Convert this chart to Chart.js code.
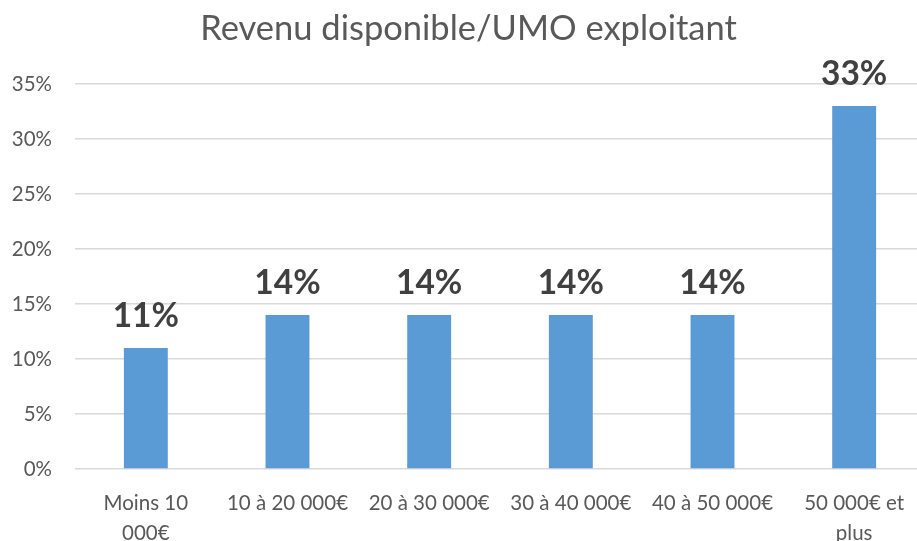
<!DOCTYPE html>
<html>
<head>
<meta charset="utf-8">
<script src="https://cdn.jsdelivr.net/npm/chart.js@4"></script>
<style>
  html, body { margin: 0; padding: 0; background: #fff; overflow: hidden; }
  #wrap { position: relative; width: 950px; height: 541px; }
</style>
</head>
<body>
<div id="wrap"><canvas id="revenuChart"></canvas></div>
<script>
// données
const categories = [['Moins 10', '000€'], '10 à 20 000€', '20 à 30 000€', '30 à 40 000€', '40 à 50 000€', ['50 000€ et', 'plus']];
const shares = [11, 14, 14, 14, 14, 33];
const yTicks = [0, 5, 10, 15, 20, 25, 30, 35];

const FONT = 'Lato, "Open Sans", sans-serif';

// étiquettes de valeur au-dessus des barres
const valueLabels = {
  id: 'valueLabels',
  afterDatasetsDraw(chart) {
    const ctx = chart.ctx;
    const meta = chart.getDatasetMeta(0);
    ctx.save();
    ctx.font = 'bold 33.5px ' + FONT;
    ctx.fillStyle = '#404040';
    ctx.textAlign = 'center';
    ctx.textBaseline = 'alphabetic';
    meta.data.forEach((bar, i) => {
      ctx.fillText(shares[i] + '%', bar.x, bar.y - 21.5);
    });
    ctx.restore();
  }
};

const ctx = document.getElementById('revenuChart').getContext('2d');
new Chart(ctx, {
  type: 'bar',
  data: {
    labels: categories,
    datasets: [{
      data: shares,
      backgroundColor: '#5B9BD5',
      barPercentage: 0.31,
      categoryPercentage: 1
    }]
  },
  options: {
    responsive: true,
    maintainAspectRatio: false,
    animation: false,
    layout: { padding: { left: 12, right: 25, top: 0, bottom: 0 } },
    plugins: {
      legend: { display: false },
      tooltip: { enabled: false },
      title: {
        display: true,
        text: 'Revenu disponible/UMO exploitant',
        color: '#595959',
        font: { family: FONT, size: 34.5, weight: 'normal', lineHeight: 1.2 },
        padding: { top: 8, bottom: 34.6 }
      }
    },
    scales: {
      x: {
        grid: { display: false, drawTicks: false },
        border: { display: false },
        afterFit(scale) { scale.height = 72; },
        ticks: {
          color: '#595959',
          font: { family: FONT, size: 20.5, lineHeight: 1.46 },
          padding: 19,
          maxRotation: 0,
          autoSkip: false
        }
      },
      y: {
        min: 0,
        max: 35,
        afterBuildTicks(axis) {
          axis.ticks = yTicks.map(v => ({ value: v }));
        },
        afterFit(scale) { scale.width = 63; },
        grid: { color: '#D9D9D9', lineWidth: 1.5, drawTicks: false },
        border: { display: false },
        ticks: {
          color: '#595959',
          font: { family: FONT, size: 20.5 },
          padding: 23,
          callback: v => v + '%'
        }
      }
    }
  },
  plugins: [valueLabels]
});
</script>
</body>
</html>
